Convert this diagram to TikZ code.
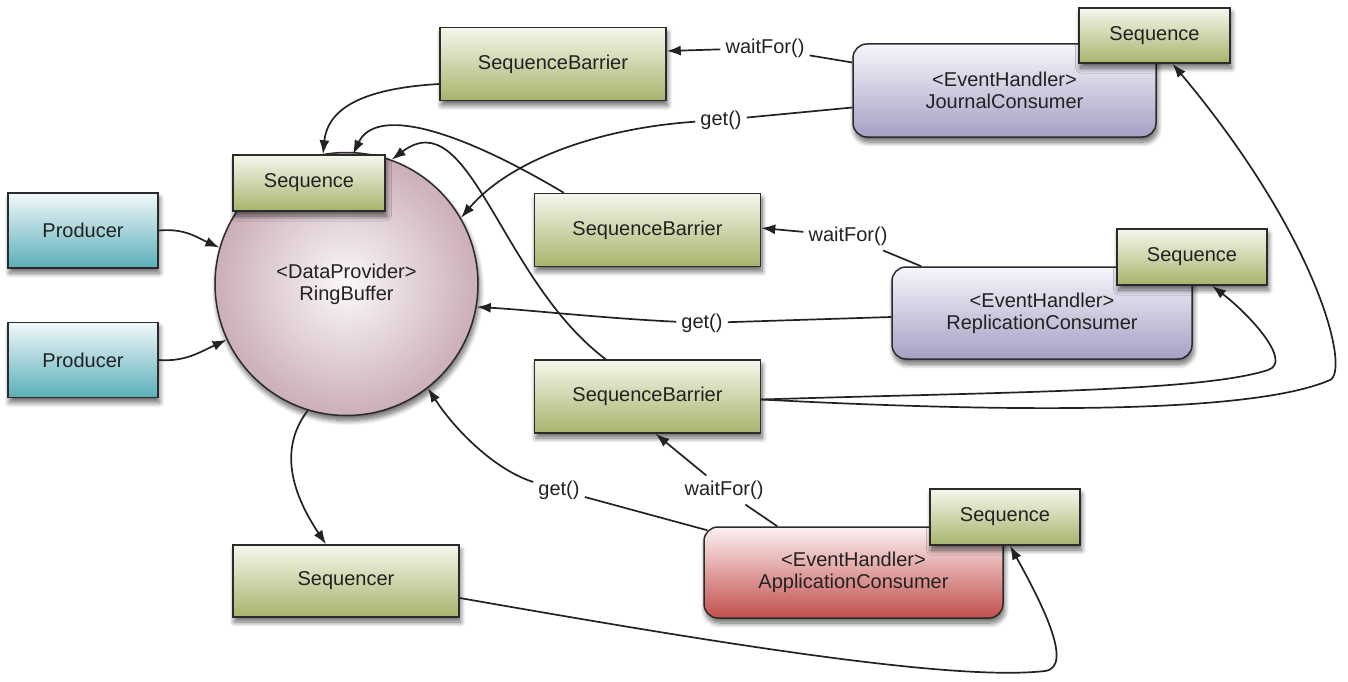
\documentclass[tikz,border=0pt]{standalone}
\usepackage{fontspec}
\setmainfont{Liberation Sans}
\usetikzlibrary{arrows.meta,shadows.blur}
\definecolor{gtop}{HTML}{F5F7EC}
\definecolor{gbot}{HTML}{A6B46C}
\definecolor{ptop}{HTML}{F7F6FB}
\definecolor{pbot}{HTML}{A5A0C4}
\definecolor{rtop}{HTML}{FCF1F1}
\definecolor{rbot}{HTML}{C24F4C}
\definecolor{ttop}{HTML}{F1F9FA}
\definecolor{tbot}{HTML}{5AAEB9}
\definecolor{rin}{HTML}{FBF8F9}
\definecolor{rout}{HTML}{CBAEBA}
\definecolor{edgec}{HTML}{2B2B2B}
\definecolor{txt}{HTML}{222222}
\definecolor{linec}{HTML}{222222}
\begin{document}
\begin{tikzpicture}[x=1pt,y=-1pt,
  every node/.style={font=\fontsize{20}{22}\selectfont, text=txt},
  base/.style={draw=edgec, line width=1.5pt, inner sep=0pt,
    blur shadow={shadow xshift=1.5pt, shadow yshift=-5pt, shadow blur radius=5pt, shadow blur steps=10, shadow opacity=60}},
  gbox/.style={base, top color=gtop, bottom color=gbot, minimum width=226pt, minimum height=73pt},
  sbox/.style={base, top color=gtop, bottom color=gbot, minimum width=151pt, minimum height=56pt},
  pbox/.style={base, top color=ptop, bottom color=pbot, rounded corners=14pt, minimum width=302pt, minimum height=92pt, align=center},
  abox/.style={base, top color=rtop, bottom color=rbot, rounded corners=14pt, minimum width=299pt, minimum height=91pt, align=center},
  tbox/.style={base, top color=ttop, bottom color=tbot, minimum width=150pt, minimum height=75pt},
  lbl/.style={inner sep=5pt},
  ln/.style={draw=linec, line width=1.7pt},
  arr/.style={ln, -{Latex[length=14pt,width=10pt]}}
]
\useasboundingbox (0,0) rectangle (1348,682);

% nodes
\node[tbox] (p1) at (83,230.5) {Producer};
\node[tbox] (p2) at (83,360) {Producer};
\node[base, circle, minimum size=263pt, inner color=rin, outer color=rout, align=center] (rb) at (346.5,284) {<DataProvider>\\RingBuffer};
\node[sbox, minimum width=152pt] (rbs) at (309,183) {Sequence};

\node[gbox] (sb1) at (553,64) {SequenceBarrier};
\node[pbox, minimum width=303pt, minimum height=93pt] (jc) at (1004.5,90.5) {<EventHandler>\\JournalConsumer};
\node[sbox, minimum height=55pt] (jcs) at (1154.5,35.5) {Sequence};

\node[gbox] (sb2) at (647.5,230) {SequenceBarrier};
\node[pbox, minimum width=300pt] (rc) at (1042,313) {<EventHandler>\\ReplicationConsumer};
\node[sbox, minimum width=150pt] (rcs) at (1192,257) {Sequence};

\node[gbox] (sb3) at (647.5,396.5) {SequenceBarrier};
\node[gbox, minimum height=72pt] (sqr) at (346,581) {Sequencer};
\node[abox] (ac) at (853.5,572.5) {<EventHandler>\\ApplicationConsumer};
\node[sbox, minimum width=150pt] (acs) at (1005,517) {Sequence};

% labels
\node[lbl] (w1) at (765,48) {waitFor()};
\node[lbl] (g1) at (721,120) {get()};
\node[lbl] (w2) at (848,236) {waitFor()};
\node[lbl] (g2) at (702,323) {get()};
\node[lbl] (g3) at (559,490) {get()};
\node[lbl] (w3) at (724,490) {waitFor()};

% connectors
\draw[arr] (p1.east) .. controls (185,228) and (198,238) .. (rb.164);
\draw[arr] (p2.east) .. controls (185,362) and (200,352) .. (rb.205);
\draw[arr] (rb.253) .. controls (285,440) and (283,480) .. ([xshift=-20pt]sqr.north);

\draw[arr] ([yshift=-20pt]sb1.west) .. controls (370,88) and (328,105) .. ([xshift=14pt]rbs.north);
\draw[arr] ([xshift=30pt]sb2.north west) .. controls (450,125) and (375,108) .. ([xshift=44pt]rbs.north);
\draw[arr] ([xshift=72pt]sb3.north west) .. controls (500,280) and (470,100) .. (rb.70);

\draw[ln] ([yshift=28pt]jc.west) -- (w1);
\draw[arr] (w1) -- ([yshift=13pt]sb1.east);
\draw[ln] ([yshift=-17pt]jc.west) -- (g1);
\draw[arr] (g1) .. controls (600,128) and (510,160) .. (rb.30);

\draw[ln] ([xshift=30pt]rc.north west) -- (w2);
\draw[arr] (w2) -- ([yshift=2pt]sb2.east);
\draw[ln] ([yshift=-4pt]rc.west) -- (g2);
\draw[arr] (g2) .. controls (600,318) and (530,310) .. (rb.-10);

\draw[ln] ([xshift=4pt,yshift=-4pt]ac.north west) -- (g3);
\draw[arr] (g3) .. controls (495,470) and (455,430) .. (rb.-52);
\draw[ln] ([xshift=74pt]ac.north west) -- (w3);
\draw[arr] (w3) -- ([xshift=8pt]sb3.south);

\draw[arr] ([yshift=-3pt]sb3.east) .. controls (1000,392) and (1200,392) .. (1268,370)
  .. controls (1293,362) and (1250,315) .. ([xshift=20pt]rcs.south);
\draw[arr] ([yshift=-3pt]sb3.east) .. controls (1000,412) and (1250,415) .. (1330,380)
  .. controls (1350,371) and (1320,240) .. ([xshift=18pt]jcs.south);
\draw[arr] ([yshift=-17pt]sqr.east) .. controls (700,640) and (950,682) .. (1045,671)
  .. controls (1075,667) and (1040,600) .. ([xshift=5pt]acs.south);
\end{tikzpicture}
\end{document}
